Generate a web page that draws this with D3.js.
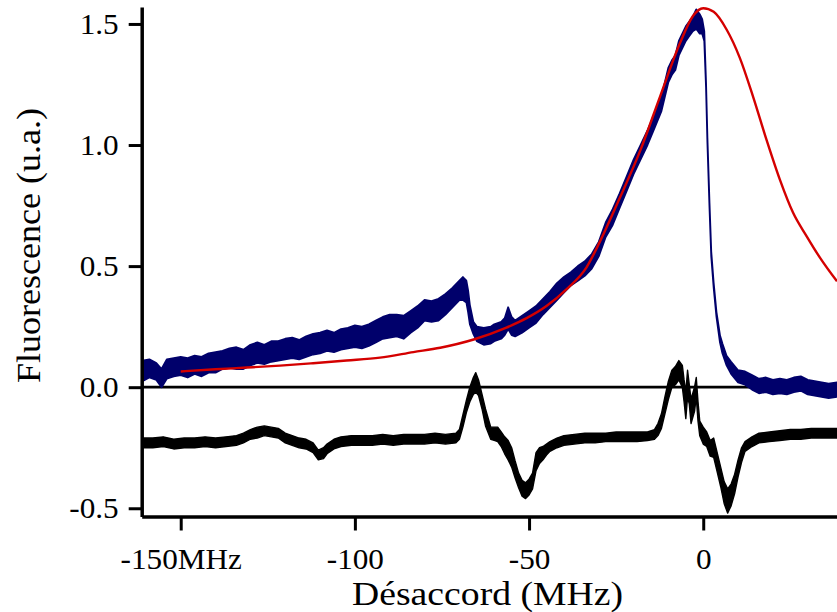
<!DOCTYPE html>
<html><head><meta charset="utf-8">
<script src="https://cdn.jsdelivr.net/npm/d3@7"></script>
<style>body{margin:0;background:#fff}svg{display:block}</style>
</head><body><svg id="c" width="837" height="612"></svg>
<script>
// ---- data ----
const xTicks = [-150, -100, -50, 0];
const xTickLabels = ["-150MHz", "-100", "-50", "0"];
const yTicks = [-0.5, 0, 0.5, 1.0, 1.5];
const yTickLabels = ["-0.5", "0.0", "0.5", "1.0", "1.5"];
const xTitle = "Désaccord (MHz)";
const yTitle = "Fluorescence (u.a.)";

// fluorescence signal (blue): detuning, lower and upper edge of the noisy trace
const blueX  = [-161,-159,-157,-155.5,-154,-152,-150,-148,-146,-144,-142,-140,-138,-136,-134,-132,-130,-128,-126,-124,-122,-120,-118,-116,-114,-112,-110,-108,-106,-104,-102,-100,-98,-96,-94,-92,-90,-88,-86,-84,-82,-80,-78,-76,-74,-72,-70,-69,-68,-67.5,-67,-66,-65,-63,-61,-60,-58,-57,-56,-55,-54,-52,-50,-48,-46,-44,-42,-40,-38,-36,-34,-32,-30,-28,-26,-24,-22,-20,-18,-16,-14,-12,-10,-9,-8,-7,-6,-5,-4,-3,-2,-1,-0.3,0.3,0.8,1.2,1.8,2.3,3,3.8,4.8,5.5,6.7,8,10,12,14,16,18,20,22,24,26,28,30,32,34,36,38.4];
const blueLo = [0.025,0.04,0.03,0.0,0.035,0.045,0.05,0.04,0.055,0.045,0.06,0.06,0.075,0.08,0.075,0.075,0.09,0.10,0.095,0.105,0.11,0.115,0.12,0.115,0.125,0.135,0.14,0.15,0.145,0.155,0.16,0.165,0.16,0.17,0.185,0.20,0.205,0.21,0.20,0.225,0.245,0.275,0.27,0.275,0.30,0.33,0.36,0.36,0.35,0.31,0.26,0.22,0.19,0.175,0.18,0.19,0.20,0.215,0.24,0.215,0.21,0.225,0.245,0.265,0.30,0.33,0.36,0.39,0.42,0.44,0.46,0.49,0.54,0.62,0.67,0.74,0.81,0.88,0.94,1.0,1.07,1.14,1.26,1.29,1.31,1.37,1.40,1.43,1.45,1.47,1.48,1.46,1.46,1.43,1.24,1.01,0.74,0.54,0.41,0.29,0.185,0.14,0.09,0.055,0.02,0.01,-0.01,-0.025,-0.02,-0.03,-0.025,-0.03,-0.02,-0.015,-0.03,-0.035,-0.04,-0.045,-0.04];
const blueHi = [0.11,0.115,0.10,0.075,0.115,0.12,0.125,0.12,0.13,0.125,0.14,0.145,0.15,0.16,0.165,0.155,0.175,0.185,0.175,0.19,0.19,0.20,0.205,0.195,0.21,0.22,0.225,0.235,0.225,0.24,0.245,0.255,0.25,0.26,0.275,0.29,0.30,0.30,0.295,0.315,0.335,0.36,0.355,0.365,0.385,0.41,0.44,0.455,0.44,0.40,0.34,0.27,0.25,0.245,0.25,0.26,0.27,0.285,0.33,0.29,0.275,0.295,0.315,0.335,0.365,0.395,0.43,0.455,0.475,0.50,0.52,0.55,0.60,0.68,0.735,0.80,0.87,0.94,1.0,1.06,1.13,1.20,1.32,1.35,1.37,1.43,1.46,1.49,1.51,1.53,1.56,1.54,1.52,1.47,1.26,1.03,0.76,0.56,0.43,0.31,0.215,0.18,0.13,0.105,0.07,0.065,0.05,0.035,0.04,0.03,0.035,0.03,0.04,0.045,0.03,0.025,0.02,0.015,0.02];

// fitted profile (red)
const redX = [-150,-140,-131,-121.5,-112,-102.4,-92.8,-83.2,-75.5,-65.9,-56.5,-50.7,-45,-39.2,-33.5,-29.7,-24,-18,-12.4,-6.7,-3,0,3,6.7,10.5,14.3,18.2,22,25.8,29.7,33.5,38.4];
const redY = [0.065,0.074,0.081,0.089,0.099,0.110,0.122,0.145,0.163,0.197,0.246,0.285,0.335,0.405,0.495,0.60,0.78,0.98,1.20,1.42,1.532,1.565,1.55,1.477,1.36,1.20,1.02,0.857,0.72,0.623,0.535,0.437];

// derivative signal (black): detuning, lower and upper edge
const blackX  = [-161,-158,-155,-152,-149,-146,-143,-140,-137,-134,-132,-130,-128,-126,-124,-122,-120,-118,-116,-114,-112,-110.5,-109,-108,-106,-104,-101,-98,-95,-92,-89,-86,-83,-80,-77,-74,-71,-70,-69,-68,-67,-66,-65.3,-64.5,-63.5,-62.5,-61,-60,-59,-58,-57,-56,-55,-54,-53,-52,-51,-50,-49,-48,-47,-46,-45,-44,-42,-40,-37,-34,-31,-28,-25,-22,-19,-16,-14,-13,-12,-11,-10,-9,-8,-7,-6,-5.5,-5,-4.5,-4,-3.5,-2.5,-2,-1.5,-1,0,1,2,3,4,5,6,7,8,9,10,11,12,14,16,19,22,25,28,31,34,37,38.4];
const blackLo = [-0.25,-0.25,-0.245,-0.255,-0.25,-0.25,-0.245,-0.25,-0.245,-0.24,-0.23,-0.215,-0.21,-0.20,-0.205,-0.21,-0.23,-0.24,-0.25,-0.255,-0.27,-0.30,-0.295,-0.275,-0.255,-0.245,-0.24,-0.24,-0.24,-0.235,-0.24,-0.235,-0.235,-0.235,-0.23,-0.235,-0.23,-0.215,-0.165,-0.105,-0.06,-0.03,-0.02,-0.035,-0.09,-0.16,-0.215,-0.22,-0.225,-0.245,-0.275,-0.30,-0.33,-0.375,-0.415,-0.45,-0.46,-0.445,-0.42,-0.345,-0.315,-0.30,-0.28,-0.265,-0.25,-0.24,-0.235,-0.23,-0.23,-0.225,-0.225,-0.225,-0.225,-0.22,-0.215,-0.20,-0.17,-0.11,-0.05,0.0,0.01,0.03,0.0,-0.06,-0.13,-0.04,-0.07,-0.15,-0.10,-0.04,-0.14,-0.20,-0.235,-0.245,-0.285,-0.29,-0.35,-0.41,-0.48,-0.52,-0.49,-0.44,-0.37,-0.31,-0.265,-0.245,-0.23,-0.225,-0.22,-0.215,-0.215,-0.21,-0.21,-0.21,-0.21];
const blackHi = [-0.21,-0.21,-0.205,-0.215,-0.21,-0.21,-0.205,-0.21,-0.205,-0.20,-0.19,-0.175,-0.165,-0.16,-0.165,-0.17,-0.19,-0.20,-0.21,-0.215,-0.23,-0.26,-0.25,-0.235,-0.215,-0.205,-0.20,-0.20,-0.20,-0.195,-0.20,-0.195,-0.195,-0.195,-0.19,-0.195,-0.19,-0.175,-0.115,-0.055,0.0,0.04,0.06,0.03,-0.03,-0.09,-0.165,-0.165,-0.165,-0.185,-0.205,-0.22,-0.25,-0.305,-0.355,-0.385,-0.395,-0.38,-0.355,-0.27,-0.25,-0.245,-0.235,-0.225,-0.21,-0.20,-0.195,-0.19,-0.19,-0.19,-0.185,-0.185,-0.185,-0.185,-0.175,-0.15,-0.11,-0.04,0.025,0.07,0.085,0.11,0.09,0.03,-0.02,0.07,0.01,-0.05,0.0,0.04,-0.06,-0.14,-0.165,-0.185,-0.22,-0.21,-0.27,-0.33,-0.39,-0.42,-0.40,-0.36,-0.30,-0.25,-0.225,-0.205,-0.19,-0.185,-0.18,-0.175,-0.175,-0.17,-0.17,-0.17,-0.17];

// ---- drawing ----
const W = 837, H = 612;
const svg = d3.select("#c");
const FONT = "'Liberation Serif','Times New Roman',Times,serif";
const NAVY = "#00006b", RED = "#d40000";

const x = d3.scaleLinear().domain([-161.2, 38.4]).range([141.7, 837]);
const y = d3.scaleLinear().domain([-0.534, 1.570]).range([516.5, 7]);

svg.append("defs").append("clipPath").attr("id", "plot")
  .append("rect").attr("x", x.range()[0]).attr("y", 0)
  .attr("width", W - x.range()[0]).attr("height", y.range()[0]);

const g = svg.append("g").attr("clip-path", "url(#plot)");

// zero line
g.append("line")
  .attr("x1", x.range()[0]).attr("x2", W)
  .attr("y1", y(0)).attr("y2", y(0))
  .attr("stroke", "#000").attr("stroke-width", 2.7);

function band(xs, lo, hi, color, sw) {
  const pts = xs.map((d, i) => ({x: d, lo: lo[i], hi: hi[i]}));
  const area = d3.area().x(d => x(d.x)).y0(d => y(d.lo)).y1(d => y(d.hi));
  g.append("path").datum(pts).attr("d", area)
    .attr("fill", color).attr("stroke", color).attr("stroke-width", sw)
    .attr("stroke-linejoin", "round");
}
band(blackX, blackLo, blackHi, "#000", 1.4);
band(blueX, blueLo, blueHi, NAVY, 1.8);

// red fit
const redPts = redX.map((d, i) => [d, redY[i]]);
g.append("path").datum(redPts)
  .attr("d", d3.line().x(d => x(d[0])).y(d => y(d[1])).curve(d3.curveMonotoneX))
  .attr("fill", "none").attr("stroke", RED).attr("stroke-width", 2.4);

// axes
const xAxis = d3.axisBottom(x).tickValues(xTicks)
  .tickFormat((d, i) => xTickLabels[i]).tickSize(14).tickSizeOuter(0).tickPadding(17);
const yAxis = d3.axisLeft(y).tickValues(yTicks)
  .tickFormat((d, i) => yTickLabels[i]).tickSize(13).tickSizeOuter(0).tickPadding(10);

const gx = svg.append("g").attr("transform", `translate(0,${y.range()[0]})`).call(xAxis);
const gy = svg.append("g").attr("transform", `translate(${x.range()[0]},0)`).call(yAxis);
[gx, gy].forEach(a => {
  a.select(".domain").attr("stroke", "#000").attr("stroke-width", 3.5);
  a.selectAll(".tick line").attr("stroke", "#000").attr("stroke-width", 3);
  a.selectAll(".tick text").attr("fill", "#000")
    .style("font-family", FONT).style("font-size", "30px");
});
// slight horizontal widening of tick labels, as in the reference lettering
gx.selectAll(".tick text").attr("transform", "scale(1.04,1)");
gy.selectAll(".tick text").each(function() {
  const t = d3.select(this), xx = +t.attr("x");
  t.attr("transform", `translate(${xx},0) scale(1.04,1) translate(${-xx},0)`);
});

// titles
svg.append("text").text(xTitle)
  .attr("x", 487.5).attr("y", 605).attr("text-anchor", "middle")
  .attr("textLength", 271).attr("lengthAdjust", "spacingAndGlyphs")
  .style("font-family", FONT).style("font-size", "34px").attr("fill", "#000");
svg.append("text").text(yTitle)
  .attr("transform", "translate(40,245.5) rotate(-90)").attr("text-anchor", "middle")
  .attr("textLength", 275).attr("lengthAdjust", "spacingAndGlyphs")
  .style("font-family", FONT).style("font-size", "34px").attr("fill", "#000");
</script>
</body></html>
